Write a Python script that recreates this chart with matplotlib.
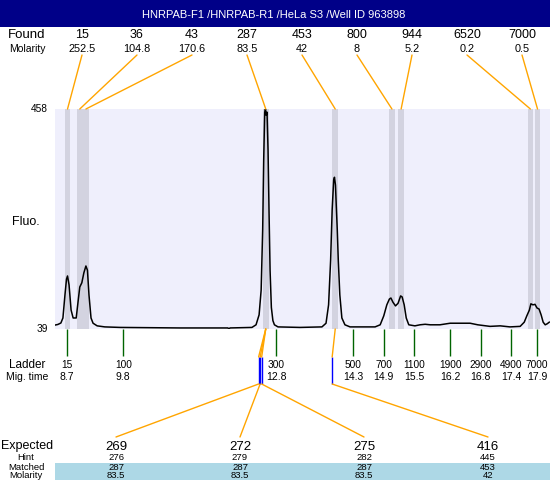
import matplotlib.pyplot as plt
from matplotlib import transforms
from matplotlib.patches import Rectangle, ConnectionPatch

plt.rcParams['font.family'] = ['Liberation Sans', 'DejaVu Sans']

title = "HNRPAB-F1 /HNRPAB-R1 /HeLa S3 /Well ID 963898"

# electropherogram trace
mig_time = [8.47, 8.52, 8.58, 8.62, 8.66, 8.69, 8.71, 8.74, 8.78, 8.82,
            8.88, 8.92, 8.95, 8.99, 9.03, 9.07, 9.10, 9.13, 9.17, 9.21,
            9.29, 9.44, 9.74, 10.91, 11.85, 11.87, 11.89, 12.32, 12.40, 12.46,
            12.50, 12.53, 12.55, 12.57, 12.585, 12.60, 12.615, 12.635, 12.655, 12.675,
            12.70, 12.73, 12.76, 12.83, 13.26, 13.69, 13.77, 13.82, 13.86, 13.89,
            13.92, 13.935, 13.955, 13.97, 13.99, 14.01, 14.04, 14.08, 14.14, 14.24,
            14.73, 14.83, 14.90, 14.96, 15.01, 15.04, 15.08, 15.13, 15.18, 15.23,
            15.26, 15.30, 15.34, 15.39, 15.51, 15.61, 15.71, 15.81, 16.00, 16.20,
            16.39, 16.59, 16.74, 16.98, 17.18, 17.37, 17.57, 17.65, 17.70, 17.75,
            17.78, 17.82, 17.86, 17.90, 17.94, 17.98, 18.02, 18.06, 18.10, 18.14]
fluo = [46.6, 47.6, 50.4, 60, 104, 134, 140, 123, 75, 60,
        60, 94, 119, 127, 146, 159, 151, 104, 60, 50,
        45, 43, 42, 41, 41, 39, 41, 42, 47, 66,
        113, 228, 361, 452, 458, 446, 452, 380, 260, 150,
        80, 55, 47, 43, 42, 43, 50, 85, 170, 266,
        323, 328, 313, 275, 228, 170, 104, 60, 47, 43,
        43, 47, 64, 85, 96, 98, 90, 83, 88, 102,
        100, 85, 60, 47, 45, 47, 48, 47, 47, 50,
        50, 50, 47, 44, 45, 43, 44, 52, 64, 75,
        87, 85, 86, 79, 77, 66, 52, 47, 49, 52]

found_size = [15, 36, 43, 287, 453, 800, 944, 6520, 7000]
found_molarity = ["252.5", "104.8", "170.6", "83.5", "42", "8", "5.2", "0.2", "0.5"]
found_time = [8.71, 8.95, 9.07, 12.59, 13.95, 15.06, 15.24, 17.77, 17.91]

ladder_size = [15, 100, 300, 500, 700, 1100, 1900, 2900, 4900, 7000]
ladder_time = [8.7, 9.8, 12.8, 14.3, 14.9, 15.5, 16.2, 16.8, 17.4, 17.9]

expected = [269, 272, 275, 416]
expected_time = [12.45, 12.48, 12.51, 13.89]
hint = [276, 279, 282, 445]
matched = [287, 287, 287, 453]
matched_molarity = ["83.5", "83.5", "83.5", "42"]

W, H = 550, 480


def fx(px):
    return px / W


def fy(py):
    return 1 - py / H


fig = plt.figure(figsize=(5.5, 4.8), dpi=100)

# header bar
fig.add_artist(Rectangle((0, fy(27)), 1, 27 / H, transform=fig.transFigure,
                         color='#000088', lw=0))
fig.text(fx(274), fy(18), title, color='white', ha='center', va='baseline',
         fontsize=8)

# main trace area
ax = fig.add_axes([fx(55), fy(329), 1 - fx(55), (329 - 109) / H])
ax.set_facecolor('#efeffc')
for s in ax.spines.values():
    s.set_visible(False)
ax.set_xticks([])
ax.set_yticks([])
ax.set_xlim(8.465, 18.154)
ax.set_ylim(39, 458)

for t in found_time:
    ax.axvspan(t - 0.056, t + 0.056, color='#d3d3e0', lw=0)
ax.plot(mig_time, fluo, color='black', lw=1.1)

ytr = ax.get_yaxis_transform()
ax.text(-0.014, 458, "458", transform=ytr, ha='right', va='center', fontsize=7.3)
ax.text(-0.014, 39, "39", transform=ytr, ha='right', va='center', fontsize=7.3)
fig.text(fx(26), fy(225), "Fluo.", ha='center', va='baseline', fontsize=9)

# found peaks row
fig.text(fx(27), fy(38), "Found", ha='center', va='baseline', fontsize=9.5)
fig.text(fx(27), fy(51.5), "Molarity", ha='center', va='baseline', fontsize=7.5)
for i, (size, mol, t) in enumerate(zip(found_size, found_molarity, found_time)):
    x = 82 + 55 * i
    fig.text(fx(x), fy(38), str(size), ha='center', va='baseline', fontsize=9)
    fig.text(fx(x), fy(51.5), mol, ha='center', va='baseline', fontsize=7.8)
    fig.add_artist(ConnectionPatch(xyA=(fx(x), fy(55)), coordsA=fig.transFigure,
                                   xyB=(t, 458), coordsB=ax.transData,
                                   color='orange', lw=1))

# ladder row
blend = transforms.blended_transform_factory(ax.transData, fig.transFigure)
ax.vlines(ladder_time, fy(356), fy(329), transform=blend, colors='#006400',
          lw=1, clip_on=False)
fig.text(fx(27), fy(367.5), "Ladder", ha='center', va='baseline', fontsize=8.5)
fig.text(fx(27), fy(380.5), "Mig. time", ha='center', va='baseline', fontsize=7.5)
for size, t in zip(ladder_size, ladder_time):
    ax.text(t, fy(367.5), str(size), transform=blend, ha='center',
            va='baseline', fontsize=7.3, clip_on=False)
    ax.text(t, fy(380.5), str(t), transform=blend, ha='center',
            va='baseline', fontsize=7.5, clip_on=False)

# expected fragments
ax.vlines(expected_time, fy(384), fy(357), transform=blend, colors='blue',
          lw=1, clip_on=False)
matched_time = [found_time[found_size.index(m)] for m in matched]
for et, mt in zip(expected_time, matched_time):
    fig.add_artist(ConnectionPatch(xyA=(et, fy(357)), coordsA=blend,
                                   xyB=(mt, 39), coordsB=ax.transData,
                                   color='orange', lw=1))

fig.add_artist(Rectangle((fx(55), 0), 1 - fx(55), fy(463), transform=fig.transFigure,
                         color='#add8e6', lw=0))
fig.text(fx(1), fy(449.5), "Expected", ha='left', va='baseline', fontsize=9)
fig.text(fx(26), fy(459.5), "Hint", ha='center', va='baseline', fontsize=6.8)
fig.text(fx(26), fy(469.5), "Matched", ha='center', va='baseline', fontsize=6.8)
fig.text(fx(26), fy(478.5), "Molarity", ha='center', va='baseline', fontsize=6.8)
for i, (e, et) in enumerate(zip(expected, expected_time)):
    x = 116 + 124 * i
    fig.text(fx(x), fy(449.5), str(e), ha='center', va='baseline', fontsize=9.5)
    fig.text(fx(x), fy(459.5), str(hint[i]), ha='center', va='baseline', fontsize=6.8)
    fig.text(fx(x), fy(469.5), str(matched[i]), ha='center', va='baseline', fontsize=6.8)
    fig.text(fx(x), fy(478.5), matched_molarity[i], ha='center', va='baseline', fontsize=6.8)
    fig.add_artist(ConnectionPatch(xyA=(fx(x), fy(437)), coordsA=fig.transFigure,
                                   xyB=(et, fy(384)), coordsB=blend,
                                   color='orange', lw=1))

fig.savefig("out.png", dpi=100)
